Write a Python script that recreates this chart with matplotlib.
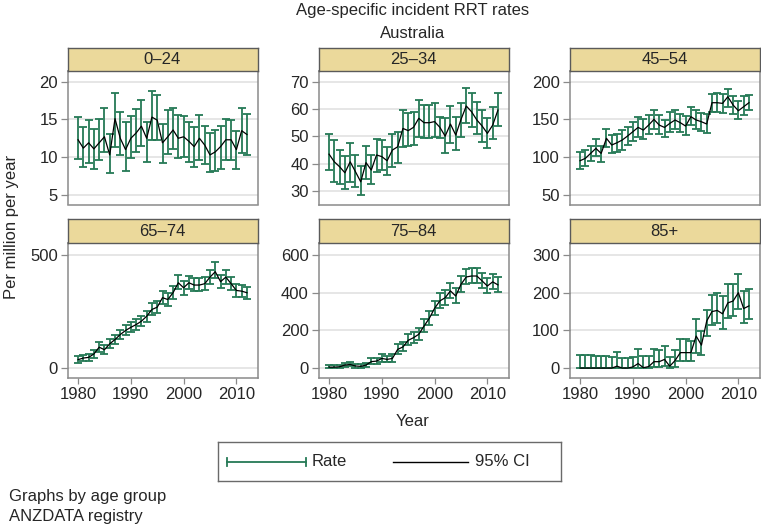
import matplotlib
matplotlib.use("Agg")
import matplotlib.pyplot as plt
import numpy as np

plt.rcParams['font.family'] = ['Liberation Sans', 'DejaVu Sans']

years = list(range(1980, 2013))
groups = ["0–24", "25–34", "45–54", "65–74", "75–84", "85+"]

rate_0_24 = [12.3, 11.2, 11.9, 11.1, 11.9, 12.7, 10.3, 15.1, 12.5, 11.0, 12.5, 13.2, 14.1, 12.5, 15.3, 14.9, 11.9,
             12.7, 13.6, 12.5, 12.7, 12.1, 11.4, 12.5, 11.6, 10.3, 10.7, 11.4, 12.3, 12.3, 11.0, 13.5, 13.0]
hi_0_24 = [15.3, 14.0, 14.9, 13.7, 15.1, 16.5, 13.0, 18.5, 16.0, 14.6, 15.5, 16.4, 17.5, 14.7, 18.7, 18.2, 14.4,
           16.2, 16.5, 15.6, 15.5, 14.7, 14.0, 15.6, 14.1, 13.2, 13.6, 14.1, 15.0, 14.9, 13.5, 16.5, 15.7]
lo_0_24 = [9.7, 8.7, 9.2, 8.5, 9.6, 10.7, 7.9, 11.4, 10.3, 8.2, 9.9, 10.7, 11.5, 9.4, 12.3, 12.3, 9.2,
           10.4, 11.1, 9.9, 10.0, 9.3, 8.7, 9.6, 9.1, 8.1, 8.2, 8.5, 9.6, 9.6, 8.5, 10.5, 10.3]

rate_25_34 = [43.5, 40.7, 38.9, 36.7, 40.7, 37.1, 33.4, 40.4, 37.7, 43.2, 42.6, 41.1, 45.0, 46.2, 52.9, 52.1, 53.3,
              56.6, 55.0, 55.0, 55.4, 53.3, 50.1, 54.5, 50.5, 56.2, 61.1, 59.0, 56.0, 53.8, 51.1, 54.1, 59.6]
hi_25_34 = [50.7, 48.7, 45.0, 42.8, 47.4, 43.2, 39.3, 46.5, 43.2, 49.0, 48.7, 46.2, 50.7, 51.7, 59.6, 58.7, 59.0,
            63.3, 61.5, 61.5, 62.3, 57.2, 56.6, 61.1, 57.0, 62.1, 67.8, 66.0, 62.7, 59.6, 56.6, 60.9, 66.0]
lo_25_34 = [37.7, 33.4, 32.6, 30.6, 33.4, 31.6, 28.5, 34.6, 32.6, 37.1, 37.7, 35.9, 38.9, 40.1, 46.2, 46.5, 46.8,
            49.9, 49.3, 49.3, 49.9, 49.3, 44.0, 47.4, 45.0, 49.9, 54.8, 53.5, 50.9, 48.0, 45.6, 49.1, 53.8]

rate_45_54 = [95.4, 98.5, 105.1, 111.7, 105.1, 125.0, 116.2, 119.2, 122.8, 128.1, 133.8, 139.5, 136.0, 142.6, 150.1,
              142.6, 139.5, 144.8, 149.3, 145.7, 141.3, 153.7, 149.3, 147.0, 144.0, 172.2, 172.2, 171.3, 180.1,
              169.1, 161.6, 166.9, 172.2]
hi_45_54 = [107, 110, 115, 124, 115, 138, 129, 131, 136, 140, 147, 153, 150, 156, 162, 156, 149, 160, 162, 157, 155,
            167, 162, 159, 157, 184, 185, 184, 191, 181, 174, 181, 182]
lo_45_54 = [85, 88, 95, 102, 94, 114, 105, 107, 110, 116, 121, 127, 124, 131, 138, 131, 127, 134, 137, 134, 129,
            143, 137, 135, 132, 160, 160, 159, 167, 157, 150, 156, 162]

rate_65_74 = [37, 44, 47, 62, 92, 81, 107, 126, 148, 166, 180, 192, 207, 229, 259, 269, 311, 303, 333, 377, 355,
              377, 367, 367, 373, 402, 426, 382, 402, 373, 343, 340, 333]
hi_65_74 = [52, 58, 62, 80, 115, 100, 127, 147, 170, 189, 204, 216, 232, 254, 286, 296, 340, 332, 362, 412, 384,
            405, 396, 396, 402, 432, 468, 412, 435, 403, 372, 368, 360]
lo_65_74 = [22, 30, 33, 45, 72, 63, 88, 106, 128, 145, 158, 170, 184, 205, 233, 243, 283, 276, 305, 348, 325,
            350, 340, 340, 345, 372, 396, 352, 372, 344, 315, 313, 307]

rate_75_84 = [5, 5, 7, 16, 19, 11, 9, 16, 34, 37, 51, 46, 51, 99, 112, 147, 161, 179, 223, 264, 317, 356, 373,
              409, 382, 444, 483, 488, 488, 462, 435, 457, 441]
hi_75_84 = [14, 14, 17, 28, 32, 22, 20, 28, 52, 56, 72, 66, 72, 127, 140, 178, 193, 213, 260, 302, 358, 398, 415,
            450, 425, 490, 525, 530, 532, 505, 478, 498, 485]
lo_75_84 = [0, 0, 1, 6, 9, 3, 2, 7, 20, 22, 34, 30, 34, 75, 88, 120, 133, 150, 191, 230, 280, 318, 335,
            370, 345, 405, 445, 450, 450, 425, 398, 420, 402]

rate_85 = [0, 0, 0, 0, 0, 0, 0, 5, 0, 0, 3, 12, 1, 4, 17, 17, 23, 5, 20, 41, 41, 41, 85, 61, 125, 150, 153, 144,
           173, 178, 200, 158, 165]
hi_85 = [36, 35, 34, 33, 32, 31, 29, 42, 27, 26, 30, 50, 32, 33, 50, 47, 58, 29, 47, 76, 76, 73, 129, 98, 153, 194,
         200, 191, 222, 224, 250, 204, 209]
lo_85 = [0, 0, 0, 0, 0, 0, 0, 0, 0, 0, 0, 0, 0, 0, 3, 3, 6, 0, 4, 19, 19, 19, 41, 36, 85, 114, 120, 103, 134, 138,
         158, 120, 129]

rates = [rate_0_24, rate_25_34, rate_45_54, rate_65_74, rate_75_84, rate_85]
his = [hi_0_24, hi_25_34, hi_45_54, hi_65_74, hi_75_84, hi_85]
los = [lo_0_24, lo_25_34, lo_45_54, lo_65_74, lo_75_84, lo_85]

yticks = [[5, 10, 15, 20], [30, 40, 50, 60, 70], [50, 100, 150, 200],
          [0, 500], [0, 200, 400, 600], [0, 100, 200, 300]]
ylims = [(3.74, 21.4), (25.1, 73.9), (37.4, 214.2), (-42, 553), (-50, 663), (-25, 332)]
xticks = [1980, 1990, 2000, 2010]

W, H = 761, 524
fig = plt.figure(figsize=(W / 100, H / 100), dpi=100)
fig.patch.set_facecolor('white')

GREEN = '#257a56'
STRIP = '#ebd99b'
SPINE = '#8a8a8a'
TXT = '#262626'
GRID = '#e4e4e4'


def rect(left, top, w, h):
    return [left / W, 1 - (top + h) / H, w / W, h / H]


lefts = [67.5, 318.5, 569.5]
rows = [(47.5, 23.5, 71, 133.5), (219, 24, 243, 134.5)]
pw = 190

for k in range(6):
    r, c = divmod(k, 3)
    stop, sh, atop, ah = rows[r]
    ax = fig.add_axes(rect(lefts[c], atop, pw, ah))
    yr = np.array(years)
    rt = np.array(rates[k])
    lo = np.array(los[k])
    hi = np.array(his[k])
    ax.errorbar(yr, rt, yerr=[rt - lo, hi - rt], fmt='none', ecolor=GREEN,
                elinewidth=1.3, capsize=3.2, capthick=1.3, zorder=3)
    ax.plot(yr, rt, color='black', lw=0.9, zorder=4)
    ax.set_xlim(1978, 2014)
    ax.set_ylim(*ylims[k])
    ax.set_yticks(yticks[k])
    ax.set_yticklabels([str(v) for v in yticks[k]])
    for v in yticks[k]:
        ax.axhline(v, color=GRID, lw=1.3, zorder=1)
    ax.set_xticks(xticks)
    if r == 1:
        ax.set_xticklabels([str(v) for v in xticks])
        ax.tick_params(axis='x', length=4, width=0.9, color=SPINE, labelsize=12,
                       labelcolor=TXT, pad=3)
    else:
        ax.tick_params(axis='x', length=0, labelbottom=False)
    ax.tick_params(axis='y', length=5, width=0.9, color=SPINE, labelsize=12,
                   labelcolor=TXT, pad=2)
    for s in ax.spines.values():
        s.set_color(SPINE)
        s.set_linewidth(1.1)
    # strip
    sx = fig.add_axes(rect(lefts[c], stop, pw, sh))
    sx.set_facecolor(STRIP)
    sx.set_xticks([])
    sx.set_yticks([])
    for s in sx.spines.values():
        s.set_color('#5a5a5a')
        s.set_linewidth(1.0)
    sx.text(0.5, 0.5, groups[k], ha='center', va='center', fontsize=12, color=TXT,
            transform=sx.transAxes)

fig.text(413 / W, 1 - 11 / H, 'Age-specific incident RRT rates', ha='center', va='center',
         fontsize=12, color=TXT)
fig.text(413 / W, 1 - 33 / H, 'Australia', ha='center', va='center', fontsize=12, color=TXT)
fig.text(12 / W, 1 - 227 / H, 'Per million per year', ha='center', va='center', rotation=90,
         fontsize=12, color=TXT)
fig.text(413 / W, 1 - 421 / H, 'Year', ha='center', va='center', fontsize=12, color=TXT)

# legend box
lg = fig.add_axes(rect(218, 442, 343, 39))
lg.set_xlim(0, 343)
lg.set_ylim(0, 39)
lg.set_xticks([])
lg.set_yticks([])
for s in lg.spines.values():
    s.set_color('#6a6a6a')
    s.set_linewidth(1.0)
lg.plot([9, 88], [19.5, 19.5], color=GREEN, lw=1.3)
lg.plot([9, 9], [15.5, 23.5], color=GREEN, lw=1.3)
lg.plot([88, 88], [15.5, 23.5], color=GREEN, lw=1.3)
lg.text(94, 19.5, 'Rate', ha='left', va='center', fontsize=12, color=TXT)
lg.plot([175, 250], [19.5, 19.5], color='black', lw=1.0)
lg.text(257, 19.5, '95% CI', ha='left', va='center', fontsize=12, color=TXT)

fig.text(9 / W, 1 - 497 / H, 'Graphs by age group', ha='left', va='center', fontsize=12, color=TXT)
fig.text(9 / W, 1 - 516 / H, 'ANZDATA registry', ha='left', va='center', fontsize=12, color=TXT)

fig.savefig('out.png', dpi=100, facecolor='white')
